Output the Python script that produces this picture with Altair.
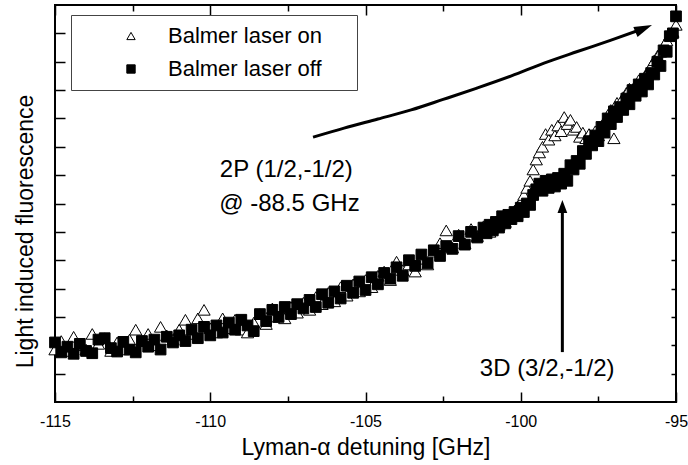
import altair as alt
import pandas as pd

FONT = "Liberation Sans, Arial, Helvetica, sans-serif"
XDOM = [-115, -95]
YDOM = [0, 14]

# ---- data ----
x_detuning = [
    -115.0, -114.8, -114.6, -114.4, -114.2, -114.0, -113.8, -113.6, -113.4, -113.2,
    -113.0, -112.8, -112.6, -112.4, -112.2, -112.0, -111.8, -111.6, -111.4, -111.2,
    -111.0, -110.8, -110.6, -110.4, -110.2, -110.0, -109.8, -109.6, -109.4, -109.2,
    -109.0, -108.8, -108.6, -108.4, -108.2, -108.0, -107.8, -107.6, -107.4, -107.2,
    -107.0, -106.8, -106.6, -106.4, -106.2, -106.0, -105.8, -105.6, -105.4, -105.2,
    -105.0, -104.8, -104.6, -104.4, -104.2, -104.0, -103.8, -103.6, -103.4, -103.2,
    -103.0, -102.8, -102.6, -102.4, -102.2, -102.0, -101.8, -101.6, -101.4, -101.2,
    -101.1, -101.0, -100.9, -100.8, -100.7, -100.6, -100.5, -100.4, -100.3, -100.2,
    -100.1, -100.0, -99.9, -99.8, -99.7, -99.6, -99.5, -99.4, -99.3, -99.2,
    -99.1, -99.0, -98.9, -98.8, -98.7, -98.6, -98.5, -98.4, -98.3, -98.2,
    -98.1, -98.0, -97.9, -97.8, -97.7, -97.6, -97.5, -97.4, -97.3, -97.2,
    -97.1, -97.0, -96.9, -96.8, -96.7, -96.6, -96.5, -96.4, -96.3, -96.2,
    -96.1, -96.0, -95.9, -95.8, -95.7, -95.6, -95.5, -95.4, -95.3, -95.2,
    -95.1, -95.0,
]

on_signal = [
    1.85, 2.15, 1.80, 2.30, 2.00, 1.85, 2.40, 2.05, 2.25, 1.80,
    2.10, 1.85, 2.20, 2.55, 2.15, 2.40, 2.00, 2.65, 2.35, 2.20,
    2.55, 2.90, 2.40, 2.95, 3.25, 2.60, 2.45, 2.95, 2.60, 2.90,
    2.55, 2.45, 2.80, 3.10, 2.75, 3.30, 3.00, 2.95, 3.35, 3.15,
    3.50, 3.25, 3.70, 3.45, 3.85, 3.55, 4.05, 3.75, 4.15, 3.90,
    4.30, 4.05, 4.45, 4.60, 4.30, 4.95, 4.65, 4.85, 4.60, 5.05,
    4.85, 5.30, 5.60, 6.05, 5.45, 5.90, 5.60, 6.10, 5.85, 6.20,
    6.20, 6.00, 6.15, 6.35, 6.25, 6.45, 6.35, 6.50, 6.60, 6.75,
    6.90, 7.05, 7.30, 7.55, 7.80, 8.20, 8.55, 8.80, 9.00, 9.45,
    9.25, 9.60, 9.40, 9.75, 9.55, 10.05, 9.80, 9.95, 9.60, 9.70,
    9.35, 9.50, 9.30, 9.45, 9.25, 9.55, 9.40, 9.65, 9.90, 10.10,
    10.30, 9.30, 10.55, 10.45, 10.75, 10.90, 11.05, 10.95, 11.20, 11.35,
    11.25, 11.50, 11.65, 11.85, 12.05, 12.20, 12.35, 12.55, 12.75, 12.95,
    13.05, 13.30,
]

off_signal = [
    2.10, 1.75, 1.95, 1.70, 2.05, 1.80, 1.72, 2.20, 2.25, 1.90,
    1.78, 2.12, 1.85, 1.75, 2.15, 1.95, 2.20, 1.85, 2.30, 2.10,
    2.35, 2.15, 2.55, 2.25, 2.65, 2.35, 2.70, 2.45, 2.80, 2.55,
    2.90, 2.70, 2.50, 3.10, 2.85, 3.25, 3.00, 3.35, 3.10, 3.45,
    3.30, 3.60, 3.35, 3.80, 3.50, 3.90, 3.65, 4.10, 3.85, 4.25,
    3.95, 4.40, 4.15, 4.55, 4.35, 4.75, 4.45, 5.00, 4.80, 5.20,
    4.90, 5.35, 5.15, 5.50, 5.40, 5.85, 5.55, 6.00, 5.80, 6.15,
    5.95, 6.25, 6.05, 6.35, 6.15, 6.55, 6.30, 6.60, 6.45, 6.70,
    6.55, 6.85, 6.70, 7.00, 6.95, 7.30, 7.50, 7.70, 7.45, 7.80,
    7.55, 7.85, 7.60, 7.90, 7.70, 8.05, 7.80, 8.35, 8.20, 8.50,
    8.40, 8.85, 8.75, 9.20, 9.05, 9.40, 9.20, 9.70, 9.50, 10.00,
    9.80, 10.25, 10.05, 10.40, 10.30, 10.70, 10.50, 11.00, 10.80, 11.20,
    10.95, 11.40, 11.20, 11.60, 11.55, 12.00, 11.85, 12.40, 12.35, 12.90,
    13.00, 13.60,
]

series_labels = ["Balmer laser on", "Balmer laser off"]

x_major = [-115, -110, -105, -100, -95]
x_minor = [-112.5, -107.5, -102.5, -97.5]
y_ticks = [1, 2, 3, 4, 5, 6, 7, 8, 9, 10, 11, 12, 13]

# curved arrow towards the 2P line
curve_x = [-106.69, -105.69, -104.6, -103.53, -102.5, -101.41, -100.3, -99.25, -98.2, -97.09, -96.04]
curve_y = [9.34, 9.66, 9.98, 10.30, 10.67, 11.07, 11.50, 11.95, 12.35, 12.76, 13.17]
curve_head_x = [-96.04]
curve_head_y = [13.17]

# straight arrow towards the 3D line
vline_x = [-98.66]
vline_y = [1.76]
vline_y2 = [6.89]
vline_head_x = [-98.66]
vline_head_y = [6.89]

ann_text = ["2P (1/2,-1/2)", "@ -88.5 GHz", "3D (3/2,-1/2)"]
ann_x = [-107.55, -107.45, -99.15]
ann_y = [8.18, 6.98, 1.16]

# ---- tables ----
n = len(x_detuning)
pts = pd.DataFrame({
    "x": x_detuning + x_detuning,
    "y": on_signal + off_signal,
    "series": [series_labels[0]] * n + [series_labels[1]] * n,
})
curve_df = pd.DataFrame({"x": curve_x, "y": curve_y})
vline_df = pd.DataFrame({"x": vline_x, "y": vline_y, "y2": vline_y2})
head1_df = pd.DataFrame({"x": curve_head_x, "y": curve_head_y})
head2_df = pd.DataFrame({"x": vline_head_x, "y": vline_head_y})
ann_df = pd.DataFrame({"text": ann_text, "x": ann_x, "y": ann_y})

xs = alt.Scale(domain=XDOM, nice=False, zero=False)
ys = alt.Scale(domain=YDOM, nice=False, zero=False)

legend = alt.Legend(
    orient="none", legendX=16, legendY=10, title=None,
    labelFont=FONT, labelFontSize=22, labelColor="black", labelLimit=400,
    symbolSize=70, symbolStrokeWidth=1, symbolStrokeColor="black",
    padding=10, rowPadding=11, symbolOffset=39, labelOffset=26,
    strokeColor="#444444", fillColor="white",
    labelExpr="datum.label + '\u00a0\u00a0\u00a0\u00a0\u200b'",
)

points = alt.Chart(pts).mark_point(filled=True, strokeWidth=1, opacity=1).encode(
    x=alt.X("x:Q", scale=xs, axis=alt.Axis(
        orient="bottom", values=x_major, labelExpr="toString(datum.value)", labelFlush=False,
        tickSize=alt.ExprRef("-10"), labelPadding=21, labelFontSize=16,
        title="Lyman-\u03b1 detuning [GHz]", titleFontSize=23, titlePadding=7)),
    y=alt.Y("y:Q", scale=ys, axis=alt.Axis(
        orient="left", values=y_ticks, labels=False, tickSize=alt.ExprRef("-10"),
        title="Light induced fluorescence", titleFontSize=23,
        titleX=-18, titleY=226, titleBaseline="bottom")),
    shape=alt.Shape("series:N", scale=alt.Scale(domain=series_labels, range=["triangle-up", "square"]), legend=legend),
    fill=alt.Fill("series:N", scale=alt.Scale(domain=series_labels, range=["white", "black"]), legend=legend),
    stroke=alt.Stroke("series:N", scale=alt.Scale(domain=series_labels, range=["black", "black"]), legend=legend),
    size=alt.condition(alt.datum.series == series_labels[0], alt.value(150), alt.value(115)),
)

curve = alt.Chart(curve_df).mark_line(color="black", strokeWidth=3, interpolate="monotone").encode(
    x=alt.X("x:Q", scale=xs, axis=alt.Axis(
        orient="bottom", values=x_minor, labels=False, tickSize=alt.ExprRef("-6"), title=None)),
    y=alt.Y("y:Q", scale=ys, axis=alt.Axis(
        orient="right", values=y_ticks, labels=False, tickSize=alt.ExprRef("-5"), title=None)),
)

vline = alt.Chart(vline_df).mark_rule(color="black", strokeWidth=3).encode(
    x=alt.X("x:Q", scale=xs, axis=alt.Axis(
        orient="top", values=x_major, labels=False, tickSize=alt.ExprRef("-10"), title=None)),
    y=alt.Y("y:Q", scale=ys, axis=None),
    y2="y2:Q",
)

head1 = alt.Chart(head1_df).mark_point(
    filled=True, color="black", opacity=1, shape="M0,-1L0.6,1L-0.6,1Z", size=324, angle=67
).encode(
    x=alt.X("x:Q", scale=xs, axis=alt.Axis(
        orient="top", values=x_minor, labels=False, tickSize=alt.ExprRef("-6"), title=None)),
    y=alt.Y("y:Q", scale=ys, axis=None),
)

head2 = alt.Chart(head2_df).mark_point(
    filled=True, color="black", opacity=1, shape="M0,-1L0.75,1L-0.75,1Z", size=169
).encode(
    x=alt.X("x:Q", scale=xs, axis=None),
    y=alt.Y("y:Q", scale=ys, axis=None),
)

texts = alt.Chart(ann_df).mark_text(font=FONT, fontSize=24, align="center", baseline="middle", color="black").encode(
    x=alt.X("x:Q", scale=xs, axis=None),
    y=alt.Y("y:Q", scale=ys, axis=None),
    text="text:N",
)

chart = alt.layer(points, curve, vline, head1, head2, texts).resolve_axis(
    x="independent", y="independent"
).properties(
    width=621, height=397,
    padding={"left": 55, "top": 5, "right": 12, "bottom": 63},
    autosize=alt.AutoSizeParams(type="none"),
).configure_view(
    stroke="black", strokeWidth=2
).configure_axis(
    grid=False, domain=False, tickColor="black", tickWidth=1.5,
    labelFont=FONT, titleFont=FONT, labelColor="black", titleColor="black",
    titleFontWeight="normal",
)

chart.save("out.html", embed_options={"renderer": "svg", "actions": False})
